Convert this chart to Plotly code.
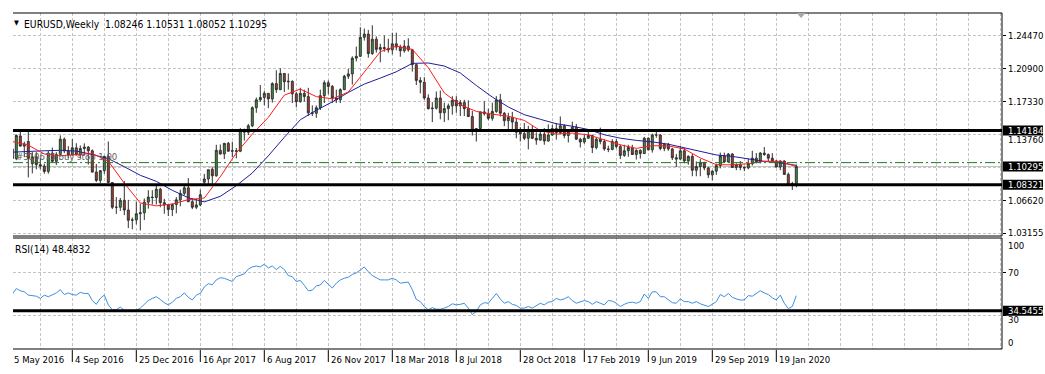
import plotly.graph_objects as go

# ---------------- data ----------------
title_text = "EURUSD,Weekly\u00a0\u00a01.08246 1.10531 1.08052 1.10295"
rsi_title = "RSI(14) 48.4832"
order_text = "#310675 buy stop 1.00"

opens = [
    1.1220, 1.1115, 1.1360, 1.1250, 1.1300, 1.1060, 1.1135, 1.1050, 1.1035, 1.0977,
    1.1175, 1.1086, 1.1160, 1.1325, 1.1198, 1.1155, 1.1232, 1.1155, 1.1225, 1.1240,
    1.1200, 1.0970, 1.0880, 1.0985, 1.1140, 1.0857, 1.0590, 1.0590, 1.0665, 1.0560,
    1.0450, 1.0453, 1.0520, 1.0530, 1.0645, 1.0700, 1.0695, 1.0785, 1.0640, 1.0615,
    1.0565, 1.0620, 1.0670, 1.0740, 1.0800, 1.0650, 1.0590, 1.0615, 1.0860, 1.0895,
    1.1000, 1.0930, 1.1205, 1.1165, 1.1280, 1.1195, 1.1200, 1.1195, 1.1425, 1.1400,
    1.1470, 1.1665, 1.1750, 1.1775, 1.1820, 1.1760, 1.1925, 1.1860, 1.2035, 1.1945,
    1.1950, 1.1815, 1.1730, 1.1820, 1.1785, 1.1610, 1.1605, 1.1665, 1.1795, 1.1935,
    1.1895, 1.1770, 1.1750, 1.1860, 1.2005, 1.2030, 1.2200, 1.2220, 1.2425, 1.2460,
    1.2250, 1.2405, 1.2295, 1.2315, 1.2305, 1.2290, 1.2355, 1.2320, 1.2280, 1.2330,
    1.2290, 1.2130, 1.1960, 1.1940, 1.1770, 1.1655, 1.1660, 1.1770, 1.1610, 1.1655,
    1.1685, 1.1745, 1.1685, 1.1720, 1.1655, 1.1570, 1.1410, 1.1440, 1.1620, 1.1600,
    1.1550, 1.1625, 1.1750, 1.1605, 1.1525, 1.1560, 1.1510, 1.1400, 1.1385, 1.1335,
    1.1420, 1.1335, 1.1315, 1.1380, 1.1305, 1.1370, 1.1440, 1.1395, 1.1470, 1.1365,
    1.1410, 1.1455, 1.1325, 1.1295, 1.1335, 1.1365, 1.1235, 1.1325, 1.1300, 1.1220,
    1.1215, 1.1300, 1.1245, 1.1150, 1.1200, 1.1235, 1.1160, 1.1205, 1.1170, 1.1335,
    1.1210, 1.1370, 1.1370, 1.1225, 1.1270, 1.1220, 1.1125, 1.1110, 1.1200, 1.1090,
    1.1140, 1.0990, 1.1030, 1.1075, 1.1015, 1.0940, 1.0980, 1.1040, 1.1145, 1.1080,
    1.1165, 1.1020, 1.1050, 1.1020, 1.1015, 1.1060, 1.1120, 1.1080, 1.1175, 1.1160,
    1.1120, 1.1090, 1.1025, 1.1090, 1.0945, 1.0830, 1.08246,
]
highs = [
    1.1236, 1.1376, 1.1416, 1.1298, 1.1428, 1.1186, 1.1185, 1.1120, 1.1060, 1.1198,
    1.1234, 1.1185, 1.1366, 1.1343, 1.1250, 1.1327, 1.1282, 1.1258, 1.1280, 1.1250,
    1.1215, 1.1058, 1.0990, 1.1145, 1.1300, 1.0860, 1.0700, 1.0690, 1.0874, 1.0670,
    1.0480, 1.0652, 1.0630, 1.0685, 1.0775, 1.0775, 1.0830, 1.0800, 1.0680, 1.0620,
    1.0630, 1.0700, 1.0780, 1.0825, 1.0905, 1.0690, 1.0680, 1.0780, 1.0950, 1.0995,
    1.1023, 1.1265, 1.1268, 1.1285, 1.1295, 1.1297, 1.1230, 1.1445, 1.1440, 1.1490,
    1.1680, 1.1775, 1.1910, 1.1845, 1.1820, 1.1940, 1.2070, 1.2092, 1.2040, 1.2035,
    1.1960, 1.1835, 1.1880, 1.1860, 1.1880, 1.1690, 1.1690, 1.1860, 1.1960, 1.1960,
    1.1910, 1.1860, 1.1875, 1.2020, 1.2085, 1.2220, 1.2325, 1.2535, 1.2520, 1.2505,
    1.2555, 1.2435, 1.2355, 1.2445, 1.2410, 1.2475, 1.2475, 1.2345, 1.2395, 1.2415,
    1.2300, 1.2140, 1.1995, 1.1995, 1.1810, 1.1725, 1.1840, 1.1850, 1.1720, 1.1710,
    1.1790, 1.1790, 1.1750, 1.1750, 1.1745, 1.1630, 1.1445, 1.1625, 1.1735, 1.1655,
    1.1720, 1.1790, 1.1815, 1.1620, 1.1610, 1.1620, 1.1550, 1.1455, 1.1500, 1.1470,
    1.1470, 1.1400, 1.1420, 1.1445, 1.1485, 1.1480, 1.1500, 1.1570, 1.1485, 1.1415,
    1.1515, 1.1490, 1.1340, 1.1370, 1.1420, 1.1375, 1.1345, 1.1450, 1.1325, 1.1255,
    1.1325, 1.1325, 1.1265, 1.1265, 1.1265, 1.1265, 1.1215, 1.1215, 1.1350, 1.1345,
    1.1385, 1.1410, 1.1380, 1.1285, 1.1285, 1.1230, 1.1165, 1.1250, 1.1230, 1.1150,
    1.1165, 1.1085, 1.1110, 1.1075, 1.1025, 1.0990, 1.1060, 1.1180, 1.1180, 1.1175,
    1.1175, 1.1065, 1.1090, 1.1030, 1.1115, 1.1200, 1.1175, 1.1185, 1.1240, 1.1170,
    1.1175, 1.1100, 1.1095, 1.1095, 1.0965, 1.0865, 1.10531,
]
lows = [
    1.1098, 1.1099, 1.1250, 1.1131, 1.0912, 1.0956, 1.0999, 1.1000, 1.0952, 1.0952,
    1.1090, 1.1046, 1.1150, 1.1174, 1.1123, 1.1150, 1.1150, 1.1121, 1.1150, 1.1050,
    1.0965, 1.0863, 1.0850, 1.0950, 1.0850, 1.0570, 1.0518, 1.0550, 1.0505, 1.0365,
    1.0352, 1.0405, 1.0340, 1.0452, 1.0575, 1.0620, 1.0620, 1.0590, 1.0520, 1.0495,
    1.0495, 1.0525, 1.0600, 1.0720, 1.0645, 1.0570, 1.0570, 1.0600, 1.0820, 1.0840,
    1.0840, 1.0920, 1.1160, 1.1110, 1.1195, 1.1130, 1.1118, 1.1185, 1.1310, 1.1370,
    1.1455, 1.1610, 1.1730, 1.1690, 1.1660, 1.1720, 1.1825, 1.1855, 1.1835, 1.1860,
    1.1715, 1.1670, 1.1720, 1.1730, 1.1575, 1.1575, 1.1555, 1.1640, 1.1715, 1.1810,
    1.1715, 1.1715, 1.1715, 1.1855, 1.1975, 1.1915, 1.2165, 1.2215, 1.2390, 1.2205,
    1.2235, 1.2260, 1.2155, 1.2270, 1.2260, 1.2240, 1.2285, 1.2215, 1.2260, 1.2270,
    1.2055, 1.1910, 1.1820, 1.1750, 1.1645, 1.1510, 1.1645, 1.1540, 1.1510, 1.1530,
    1.1590, 1.1610, 1.1575, 1.1575, 1.1565, 1.1365, 1.1300, 1.1430, 1.1580, 1.1530,
    1.1525, 1.1610, 1.1570, 1.1465, 1.1430, 1.1430, 1.1335, 1.1300, 1.1315, 1.1215,
    1.1325, 1.1265, 1.1310, 1.1265, 1.1300, 1.1360, 1.1320, 1.1380, 1.1335, 1.1290,
    1.1405, 1.1320, 1.1235, 1.1275, 1.1330, 1.1175, 1.1215, 1.1270, 1.1200, 1.1185,
    1.1205, 1.1225, 1.1110, 1.1135, 1.1135, 1.1155, 1.1105, 1.1115, 1.1165, 1.1205,
    1.1180, 1.1340, 1.1205, 1.1195, 1.1200, 1.1100, 1.1025, 1.1100, 1.1065, 1.1050,
    1.0925, 1.0925, 1.0925, 1.0990, 1.0905, 1.0880, 1.0940, 1.1010, 1.1070, 1.1075,
    1.1015, 1.0990, 1.0990, 1.0980, 1.1000, 1.1040, 1.1065, 1.1065, 1.1145, 1.1085,
    1.1085, 1.1020, 1.0990, 1.0940, 1.0827, 1.0777, 1.08052,
]
closes = [
    1.1115, 1.1365, 1.1250, 1.1275, 1.1117, 1.1135, 1.1050, 1.1035, 1.0977, 1.1175,
    1.1086, 1.1160, 1.1325, 1.1198, 1.1155, 1.1232, 1.1155, 1.1225, 1.1240, 1.1200,
    1.0970, 1.0880, 1.0985, 1.1140, 1.0857, 1.0590, 1.0590, 1.0665, 1.0560, 1.0450,
    1.0453, 1.0520, 1.0530, 1.0645, 1.0700, 1.0695, 1.0785, 1.0640, 1.0615, 1.0565,
    1.0620, 1.0670, 1.0740, 1.0800, 1.0650, 1.0590, 1.0615, 1.0725, 1.0895, 1.0995,
    1.0930, 1.1205, 1.1165, 1.1280, 1.1195, 1.1200, 1.1195, 1.1425, 1.1400, 1.1470,
    1.1665, 1.1750, 1.1775, 1.1820, 1.1760, 1.1925, 1.1860, 1.2035, 1.1945, 1.1950,
    1.1815, 1.1730, 1.1820, 1.1785, 1.1610, 1.1605, 1.1665, 1.1795, 1.1935, 1.1895,
    1.1770, 1.1750, 1.1860, 1.2005, 1.2030, 1.2200, 1.2220, 1.2425, 1.2460, 1.2250,
    1.2405, 1.2295, 1.2315, 1.2305, 1.2290, 1.2355, 1.2320, 1.2280, 1.2330, 1.2290,
    1.2130, 1.1960, 1.1940, 1.1770, 1.1655, 1.1660, 1.1770, 1.1610, 1.1655, 1.1685,
    1.1745, 1.1685, 1.1720, 1.1655, 1.1570, 1.1410, 1.1440, 1.1620, 1.1600, 1.1550,
    1.1625, 1.1750, 1.1605, 1.1525, 1.1560, 1.1510, 1.1400, 1.1385, 1.1335, 1.1420,
    1.1335, 1.1315, 1.1380, 1.1305, 1.1370, 1.1440, 1.1395, 1.1470, 1.1365, 1.1410,
    1.1455, 1.1325, 1.1295, 1.1335, 1.1365, 1.1235, 1.1325, 1.1300, 1.1220, 1.1215,
    1.1300, 1.1245, 1.1150, 1.1200, 1.1235, 1.1160, 1.1205, 1.1170, 1.1335, 1.1210,
    1.1370, 1.1370, 1.1225, 1.1270, 1.1220, 1.1125, 1.1110, 1.1200, 1.1090, 1.1140,
    1.0990, 1.1030, 1.1075, 1.1015, 1.0940, 1.0980, 1.1040, 1.1145, 1.1080, 1.1165,
    1.1020, 1.1050, 1.1020, 1.1015, 1.1060, 1.1120, 1.1080, 1.1175, 1.1160, 1.1120,
    1.1090, 1.1025, 1.1090, 1.0945, 1.0830, 1.0845, 1.10295,
]

# moving averages, read every 4th bar
ma_red = [
    1.1300, 1.1260, 1.1165, 1.1145, 1.1160, 1.1170, 1.1088, 1.0850, 1.0636, 1.0605,
    1.0625, 1.0672, 1.0690, 1.0920, 1.1176, 1.1380, 1.1560, 1.1801, 1.1866, 1.1785,
    1.1761, 1.1834, 1.2050, 1.2270, 1.2330, 1.2295, 1.2097, 1.1825, 1.1696, 1.1625,
    1.1595, 1.1573, 1.1528, 1.1418, 1.1380, 1.1391, 1.1372, 1.1318, 1.1265, 1.1226,
    1.1255, 1.1252, 1.1220, 1.1122, 1.1050, 1.1048, 1.1060, 1.1087, 1.1085, 1.1030,
]
ma_blue = [
    1.1185, 1.1195, 1.1200, 1.1205, 1.1197, 1.1160, 1.1115, 1.1028, 1.0935, 1.0870,
    1.0773, 1.0693, 1.0648, 1.0708, 1.0823, 1.0960, 1.1145, 1.1345, 1.1535, 1.1637,
    1.1728, 1.1830, 1.1920, 1.1985, 1.2053, 1.2144, 1.2148, 1.2115, 1.2040, 1.1905,
    1.1780, 1.1673, 1.1590, 1.1540, 1.1492, 1.1465, 1.1430, 1.1373, 1.1336, 1.1312,
    1.1296, 1.1271, 1.1233, 1.1196, 1.1155, 1.1139, 1.1113, 1.1086, 1.1069, 1.1042,
]

rsi = [
    50, 55, 53, 52, 49, 48.5, 48, 46, 49, 47.5,
    49.5, 51, 54, 49.5, 51, 49.5, 49, 51.5, 50.5, 50.5,
    44, 40.5, 46, 49, 40, 35.5, 35.5, 38, 35, 35,
    35.5, 35, 37, 41, 44, 46, 47.5, 45, 42, 40,
    42.5, 46, 47.5, 51, 47, 44.5, 49, 50.6, 56.5, 59.5,
    58.5, 63, 65, 64.5, 63, 61.5, 66, 67.5, 68.5, 73,
    75, 75.8, 75, 77.5, 74, 75.8, 72.5, 75.5, 72.5, 67,
    66, 61.5, 62.5, 58, 53, 53.5, 57.5, 58.3, 62.5, 59,
    55.5, 60, 63, 64.5, 65.5, 68, 69.5, 72, 75, 70.5,
    67, 65, 63, 63, 63, 64.5, 63, 60, 60.5, 61,
    54, 45, 43, 38.5, 35.5, 37.5, 36, 36, 37, 38.5,
    41, 40, 40.5, 41.5, 37, 31, 34, 40, 42, 41.5,
    46, 50.5, 45.5, 41.5, 43, 40.5, 39.5, 37, 37, 38.5,
    37, 39, 41.5, 40, 42.5, 43, 46, 44.5, 45.5, 47.5,
    44, 41.5, 43, 44, 43, 40.5, 43, 41.5, 40, 44,
    43.5, 41.5, 38.5, 40.5, 42, 42.5, 41.5, 43, 50, 46,
    52, 52, 47.5, 47.5, 45, 42, 41.5, 45.5, 43, 43,
    41.5, 43, 41, 40, 38.5, 40.5, 43, 49.5, 47.5, 50.5,
    47, 45.5, 44.5, 44.5, 48.5, 48, 50.5, 53, 51, 49.5,
    46.5, 44.5, 49, 41.5, 36.5, 38.5, 48.4832,
]

price_grid = [1.24470, 1.20900, 1.17330, 1.13760, 1.10190, 1.06620, 1.03050]
price_labels = ["1.24470", "1.20900", "1.17330", "1.13760", "1.06620", "1.03155"]
price_label_vals = [1.24470, 1.20900, 1.17330, 1.13760, 1.06620, 1.03155]
hlines = [1.14184, 1.08321]
bid_price = 1.10295
order_price = 1.1072
rsi_level = 34.5455
rsi_grid = [70, 30]

date_labels = ["4 Sep 2016", "25 Dec 2016", "16 Apr 2017", "6 Aug 2017", "26 Nov 2017",
               "18 Mar 2018", "8 Jul 2018", "28 Oct 2018", "17 Feb 2019", "9 Jun 2019",
               "29 Sep 2019", "19 Jan 2020"]
date_idx = [15, 31, 47, 63, 79, 95, 111, 127, 143, 159, 175, 191]
first_label = "5 May 2016"

# ---------------- styling ----------------
FONT = "DejaVu Sans Condensed, DejaVu Sans, Liberation Sans, sans-serif"
FS = 9.5
HEAD_FS = 10.3
GRID = "#c4c4c4"
GREEN = "#3c9a3c"
RED = "#b8392a"
WICK = "#303030"

bars = list(range(len(closes)))
ma_x = bars[::4]
grid_idx = list(range(7, 248, 8))

X0, X1 = 0.175, 247.425
PMIN, PMAX = 1.02796, 1.26878
MAIN_BOT = 113 / 336
RSI_TOP = 111 / 336

fig = go.Figure()
fig.add_trace(go.Candlestick(
    x=bars, open=opens, high=highs, low=lows, close=closes,
    increasing=dict(fillcolor=GREEN, line=dict(color=WICK, width=1)),
    decreasing=dict(fillcolor=RED, line=dict(color=WICK, width=1)),
    whiskerwidth=0, showlegend=False, hoverinfo="skip", xaxis="x", yaxis="y"))
fig.add_trace(go.Scatter(x=ma_x, y=ma_blue, mode="lines",
                         line=dict(color="#1e1e9a", width=1), hoverinfo="skip",
                         xaxis="x", yaxis="y"))
fig.add_trace(go.Scatter(x=ma_x, y=ma_red, mode="lines",
                         line=dict(color="#ff1a1a", width=1), hoverinfo="skip",
                         xaxis="x", yaxis="y"))
fig.add_trace(go.Scatter(x=bars, y=rsi, mode="lines",
                         line=dict(color="#3d8fe0", width=1), hoverinfo="skip",
                         xaxis="x2", yaxis="y2"))

axis_common = dict(showgrid=True, gridcolor=GRID, griddash="3px,2px", gridwidth=1,
                   zeroline=False, showticklabels=False, showline=False)
fig.update_layout(
    width=1045, height=374,
    margin=dict(l=13, r=43, t=13, b=25),
    paper_bgcolor="white", plot_bgcolor="white", showlegend=False,
    font=dict(family=FONT, size=FS, color="black"),
    xaxis=dict(domain=[0, 1], range=[X0, X1], anchor="y", tickvals=grid_idx, ticks="",
               rangeslider=dict(visible=False), **axis_common),
    yaxis=dict(domain=[MAIN_BOT, 1], range=[PMIN, PMAX], side="right", anchor="x",
               tickvals=price_grid, ticks="outside", ticklen=3, tickcolor="black",
               **axis_common),
    xaxis2=dict(domain=[0, 1], range=[X0, X1], anchor="y2", matches="x",
                tickvals=grid_idx, ticks="", **axis_common),
    yaxis2=dict(domain=[0, RSI_TOP], range=[-0.65, 101.6], side="right", anchor="x2",
                tickvals=rsi_grid, ticks="outside", ticklen=3, tickcolor="black",
                **axis_common),
)

shapes = []
# pane frames
for y in (1, MAIN_BOT, RSI_TOP, 0):
    shapes.append(dict(type="line", xref="paper", yref="paper", x0=0, x1=1, y0=y, y1=y,
                       line=dict(color="black", width=1)))
shapes.append(dict(type="line", xref="paper", yref="paper", x0=1, x1=1, y0=MAIN_BOT, y1=1,
                   line=dict(color="black", width=1)))
shapes.append(dict(type="line", xref="paper", yref="paper", x0=1, x1=1, y0=0, y1=RSI_TOP,
                   line=dict(color="black", width=1)))
# bid line and pending order line
shapes.append(dict(type="line", xref="paper", yref="y", x0=0, x1=1, y0=bid_price, y1=bid_price,
                   line=dict(color="#c0c0c0", width=1), layer="below"))
shapes.append(dict(type="line", xref="paper", yref="y", x0=0, x1=1, y0=order_price, y1=order_price,
                   line=dict(color="#1f7a1f", width=1, dash="10px,3px,2px,3px")))
# thick horizontal levels
for p in hlines:
    shapes.append(dict(type="line", xref="paper", yref="y", x0=0, x1=1, y0=p, y1=p,
                       line=dict(color="black", width=3)))
shapes.append(dict(type="line", xref="paper", yref="y2", x0=0, x1=1, y0=rsi_level, y1=rsi_level,
                   line=dict(color="black", width=3)))
# black price-label boxes on the right
for yref, v in (("y", hlines[0]), ("y", bid_price), ("y", hlines[1]), ("y2", rsi_level)):
    shapes.append(dict(type="rect", xref="paper", xsizemode="pixel", xanchor=1, x0=1, x1=41,
                       yref=yref, ysizemode="pixel", yanchor=v, y0=-5, y1=5,
                       fillcolor="black", line=dict(width=0)))
# date tick marks
for i in date_idx:
    shapes.append(dict(type="line", xref="x", x0=i, x1=i, yref="paper", ysizemode="pixel",
                       yanchor=0, y0=-1, y1=-13, line=dict(color="black", width=1)))
# chart-shift marker
shapes.append(dict(type="path", xref="x", yref="paper",
                   path="M 196.1,1 L 198.3,1 L 197.2,0.985 Z",
                   fillcolor="#a8a8a8", line=dict(width=0)))
fig.update_layout(shapes=shapes)

ann = []
ann.append(dict(text="\u25bc", x=0, xref="paper", xanchor="left", xshift=-1, y=1, yref="paper",
                yanchor="top", yshift=-4, showarrow=False, font=dict(size=7)))
ann.append(dict(text=title_text, x=0, xref="paper", xanchor="left", xshift=9, y=1, yref="paper",
                yanchor="top", yshift=-3, showarrow=False, font=dict(size=HEAD_FS)))
ann.append(dict(text=rsi_title, x=0, xref="paper", xanchor="left", xshift=0, y=RSI_TOP,
                yref="paper", yanchor="top", yshift=-3, showarrow=False,
                font=dict(size=HEAD_FS)))
ann.append(dict(text=order_text, x=0, xref="paper", xanchor="left", xshift=1, y=1.1136,
                yref="y", yanchor="middle", showarrow=False, font=dict(color="#606060")))
for t, v in zip(price_labels, price_label_vals):
    sh = -5 if t == "1.13760" else 0
    ann.append(dict(text=t, x=1, xref="paper", xanchor="left", xshift=4, y=v, yref="y",
                    yanchor="middle", yshift=sh, showarrow=False))
for t, v, sh in (("100", 100, -5.5), ("70", 70, 0), ("30", 30, -4), ("0", 0, 5.5)):
    ann.append(dict(text=t, x=1, xref="paper", xanchor="left", xshift=4, y=v, yref="y2",
                    yanchor="middle", yshift=sh, showarrow=False))
for t, v, yref in (("1.14184", hlines[0], "y"), ("1.10295", bid_price, "y"),
                   ("1.08321", hlines[1], "y"), ("34.5455", rsi_level, "y2")):
    ann.append(dict(text=t, x=1, xref="paper", xanchor="left", xshift=4, y=v, yref=yref,
                    yanchor="middle", showarrow=False, font=dict(color="white")))
ann.append(dict(text=first_label, x=0, xref="paper", xanchor="left", xshift=-1, y=0, yref="paper",
                yanchor="top", yshift=-3, showarrow=False))
for t, i in zip(date_labels, date_idx):
    ann.append(dict(text=t, x=i, xref="x", xanchor="left", xshift=1, y=0, yref="paper",
                    yanchor="top", yshift=-3, showarrow=False))
fig.update_layout(annotations=ann)

fig.write_html("out.html", config={"displayModeBar": False},
               post_script="document.body.style.margin='0';document.body.style.overflow='hidden';")
